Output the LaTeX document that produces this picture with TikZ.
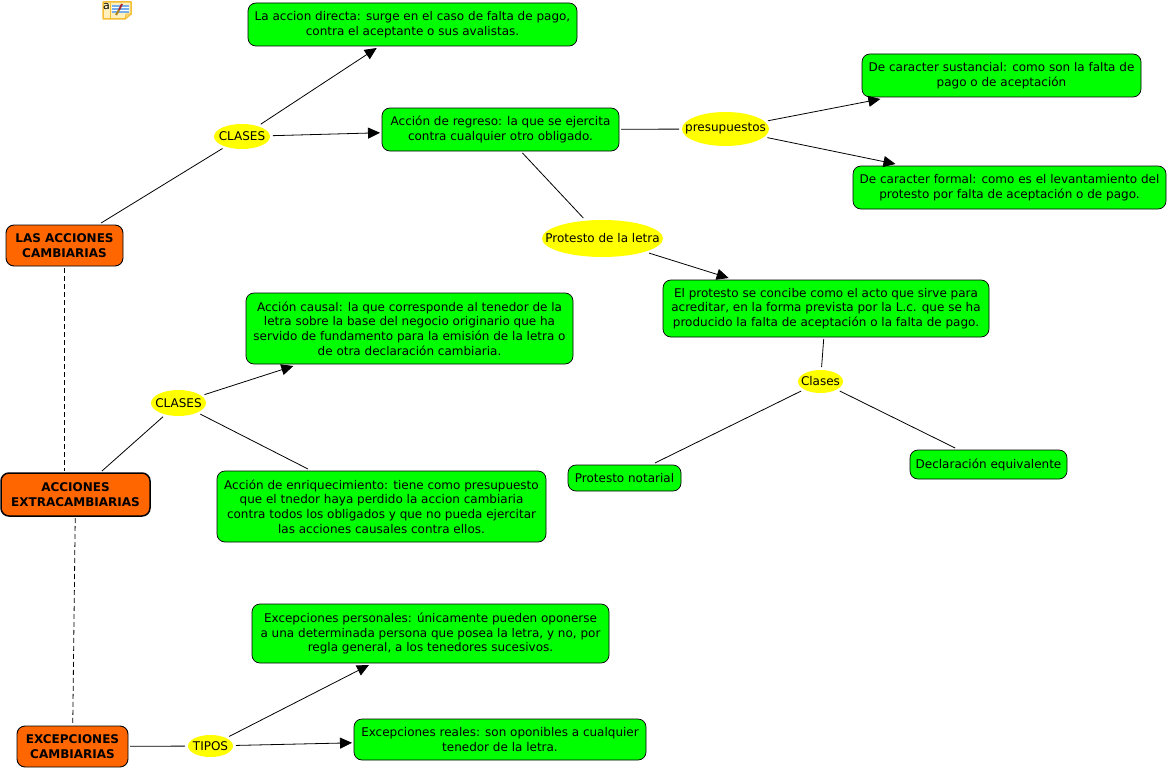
\documentclass[tikz,border=0pt]{standalone}
\usepackage{fontspec}
\setmainfont{DejaVu Sans}
\usetikzlibrary{arrows.meta,shapes.geometric}
\definecolor{boxgreen}{RGB}{0,255,0}
\definecolor{rootorange}{RGB}{255,102,0}
\definecolor{phraseyellow}{RGB}{255,255,0}
\definecolor{notegold}{RGB}{245,190,50}
\definecolor{notepale}{RGB}{255,240,190}
\definecolor{noteblue}{RGB}{120,175,235}
\definecolor{notered}{RGB}{170,40,40}
\newcommand{\ptext}[1]{\makebox[0pt]{#1}}
\tikzset{
  concept/.style={draw=black,line width=0.7pt,rounded corners=8pt,fill=boxgreen,align=center,inner sep=0pt,outer sep=2pt,font=\fontsize{12}{14.8}\selectfont},
  root/.style={draw=black,line width=0.9pt,rounded corners=8pt,fill=rootorange,align=center,inner sep=0pt,outer sep=2pt,font=\fontsize{12}{14.8}\selectfont\bfseries},
  phrase/.style={ellipse,fill=phraseyellow,inner sep=0pt,outer sep=3pt,font=\fontsize{12}{14.8}\selectfont},
  link/.style={draw=black,line width=0.8pt},
  linkto/.style={link,-{Triangle[length=12pt,width=11pt]}},
  linkdash/.style={link,dash pattern=on 5pt off 3pt},
}
\begin{document}
\begin{tikzpicture}[x=1pt,y=-1pt]
\useasboundingbox (0,0) rectangle (1168,768);
% nota en la esquina
\filldraw[fill=notepale,draw=notegold,line width=1.5pt,line join=round] (103,2) -- (131,2) -- (131,14) -- (125,19) -- (103,19) -- cycle;
\filldraw[fill=notegold!60!white,draw=notegold,line width=0.7pt] (131,14) -- (126,14) -- (125,19) -- cycle;
\node[inner sep=0pt,font=\fontsize{11}{11}\selectfont] (notea) at (106.5,6.5) {a};
\draw[notegold] (110.5,3) -- (110.5,18);
\fill[noteblue] (112,5) rectangle (129,13);
\draw[white,line width=0.7pt] (112,7.5) -- (129,7.5) (112,10.5) -- (129,10.5);
\draw[notegold!70!black,line width=2pt] (116,15) -- (119,10);
\draw[notered,line width=2pt] (119,10) -- (122,4);
% conceptos raiz
\node[root,minimum width=117,minimum height=41] (lasacciones) at (64.5,245.5) {LAS ACCIONES\\CAMBIARIAS};
\node[root,line width=1.5pt,minimum width=149,minimum height=43] (extra) at (75.5,494.5) {ACCIONES\\EXTRACAMBIARIAS};
\node[root,minimum width=111,minimum height=41] (excepciones) at (72.5,746.5) {EXCEPCIONES\\CAMBIARIAS};
% frases de enlace
\node[phrase,minimum width=56,minimum height=25] (clasesa) at (242,136.5) {\ptext{CLASES}};
\node[phrase,minimum width=87,minimum height=34] (presupuestos) at (725.5,129) {\ptext{presupuestos}};
\node[phrase,minimum width=121,minimum height=37] (protesto) at (602.5,238.5) {\ptext{Protesto de la letra}};
\node[phrase,minimum width=45,minimum height=23] (clasesc) at (820.5,381.5) {\ptext{Clases}};
\node[phrase,minimum width=55,minimum height=26] (clasesb) at (178.5,403) {\ptext{CLASES}};
\node[phrase,minimum width=45,minimum height=22] (tipos) at (210.5,746) {\ptext{TIPOS}};
% cajas
\node[concept,minimum width=329,minimum height=43] (directa) at (412.5,24.5) {La accion directa: surge en el caso de falta de pago,\\contra el aceptante o sus avalistas.};
\node[concept,minimum width=237,minimum height=43] (regreso) at (500.5,129.5) {Acción de regreso: la que se ejercita\\contra cualquier otro obligado.};
\node[concept,minimum width=279,minimum height=43] (sustancial) at (1001.5,75.5) {De caracter sustancial: como son la falta de\\pago o de aceptación};
\node[concept,minimum width=313,minimum height=43] (formal) at (1009.5,187.5) {De caracter formal: como es el levantamiento del\\protesto por falta de aceptación o de pago.};
\node[concept,minimum width=326,minimum height=57] (concibe) at (826,308.5) {El protesto se concibe como el acto que sirve para\\acreditar, en la forma prevista por la L.c. que se ha\\producido la falta de aceptación o la falta de pago.};
\node[concept,minimum width=327,minimum height=71] (causal) at (409.5,328.5) {Acción causal: la que corresponde al tenedor de la\\letra sobre la base del negocio originario que ha\\servido de fundamento para la emisión de la letra o\\de otra declaración cambiaria.};
\node[concept,minimum width=329,minimum height=71] (enriquecimiento) at (381.5,506.5) {Acción de enriquecimiento: tiene como presupuesto\\que el tnedor haya perdido la accion cambiaria\\contra todos los obligados y que no pueda ejercitar\\las acciones causales contra ellos.};
\node[concept,minimum width=113,minimum height=26] (notarial) at (624.5,478) {Protesto notarial};
\node[concept,minimum width=157,minimum height=29] (equivalente) at (988.5,464.5) {Declaración equivalente};
\node[concept,minimum width=357,minimum height=59] (personales) at (430.5,633.5) {Excepciones personales: únicamente pueden oponerse\\a una determinada persona que posea la letra, y no, por\\regla general, a los tenedores sucesivos.};
\node[concept,minimum width=292,minimum height=41] (reales) at (500,739.5) {Excepciones reales: son oponibles a cualquier\\tenedor de la letra.};
% conectores
\draw[link] (lasacciones) -- (clasesa);
\draw[linkto] (clasesa) -- (directa);
\draw[linkto] (clasesa) -- (regreso);
\draw[link] (regreso) -- (presupuestos);
\draw[linkto] (presupuestos) -- (sustancial);
\draw[linkto] (presupuestos) -- (formal);
\draw[link] (regreso) -- (protesto);
\draw[linkto] (protesto) -- (concibe);
\draw[link] (concibe) -- (clasesc);
\draw[link] (clasesc) -- (notarial);
\draw[link] (clasesc) -- (equivalente);
\draw[link] (extra) -- (clasesb);
\draw[linkto] (clasesb) -- (causal);
\draw[link] (clasesb) -- (enriquecimiento);
\draw[link] (excepciones) -- (tipos);
\draw[linkto] (tipos) -- (personales);
\draw[linkto] (tipos) -- (reales);
% uniones cruzadas
\draw[linkdash] (lasacciones.south) -- (lasacciones.south |- extra.north);
\draw[linkdash] (extra) -- (excepciones);
\end{tikzpicture}
\end{document}
